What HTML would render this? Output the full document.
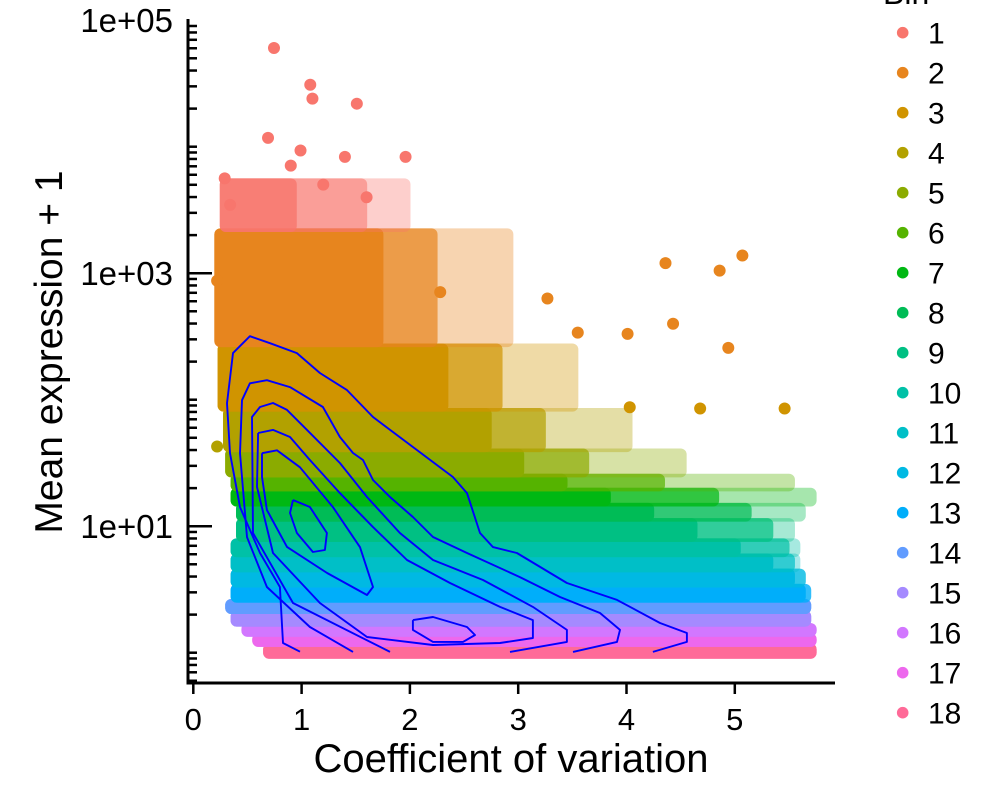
<!DOCTYPE html>
<html><head><meta charset="utf-8"><style>
html,body{margin:0;padding:0;background:#fff;}
svg{display:block;font-family:"Liberation Sans",sans-serif;}
</style></head><body>
<svg id="chart" width="1000" height="800" viewBox="0 0 1000 800" xmlns="http://www.w3.org/2000/svg">
<g id="bands"></g>
<g id="points"></g>
<g id="contours"></g>
<g id="axes"></g>
<g id="legend"></g>
<text x="511" y="772" font-size="40" text-anchor="middle">Coefficient of variation</text>
<text transform="translate(62,352) rotate(-90)" font-size="39" text-anchor="middle">Mean expression + 1</text>
</svg>
<script>
// ---- data ----
const binLabels = ["1","2","3","4","5","6","7","8","9","10","11","12","13","14","15","16","17","18"];
const binColors = ["#F8766D","#E7851E","#D09400","#B2A100","#8BAB00","#55B300","#00B813","#00BC56","#00C083","#00C1A7","#00BFC7","#00B9E3","#00AEFA","#619CFF","#A58AFF","#D277FF","#ED68ED","#FF6A98"];
// log10(mean+1) upper and lower bounds of each bin
const binLogHigh = [3.75,3.34,2.43,1.92,1.60,1.40,1.29,1.17,1.05,0.89,0.77,0.65,0.53,0.41,0.32,0.22,0.14,0.06];
const binLogLow  = [3.34,2.43,1.92,1.60,1.40,1.29,1.17,1.05,0.89,0.77,0.65,0.53,0.41,0.32,0.22,0.14,0.06,0.00];
const binXMin      = [0.30,0.25,0.28,0.33,0.35,0.40,0.40,0.45,0.45,0.40,0.40,0.40,0.40,0.35,0.40,0.50,0.60,0.70];
const binXDenseMax = [0.90,1.70,2.30,2.70,3.00,3.40,3.80,4.20,4.60,5.00,5.30,5.50,5.60,5.65,5.65,5.70,5.70,5.70];
const binXMidMax   = [1.55,2.20,2.80,3.20,3.60,4.30,4.80,5.10,5.30,5.45,5.50,5.60,5.65,5.65,5.65,5.70,5.70,5.70];
const binXMax      = [1.95,2.90,3.50,4.00,4.50,5.50,5.70,5.60,5.50,5.55,5.55,5.60,5.65,5.65,5.65,5.70,5.70,5.70];
// explicit outliers
const outX   = [0.745,1.08,1.10,1.51,0.69,0.99,1.96,1.40,0.29,0.34,4.36,4.86,5.07,0.22,2.28,3.27,3.55,4.01,4.43,0.22,4.94,5.46,4.68,4.03,1.2,0.9,1.6];
const outLog = [4.78,4.49,4.38,4.34,4.07,3.97,3.92,3.92,3.75,3.54,3.08,3.02,3.14,2.94,2.85,2.80,2.53,2.52,2.60,1.63,2.41,1.93,1.93,1.94,3.7,3.85,3.6];
const outBin = [1,1,1,1,1,1,1,1,1,1,2,2,2,2,2,2,2,2,2,4,2,3,3,3,1,1,1];
// contours (x, log10 y)
const contourX = [
 [0.985,0.828,0.800,0.616,0.431,0.339,0.311,0.367,0.523,0.708,0.957,1.169,1.419,1.659,2.028,2.397,2.527,2.647,2.767,2.988,3.450,3.912,4.309,4.558,4.558,4.244],
 [1.475,1.077,0.680,0.496,0.431,0.450,0.523,0.680,0.893,1.197,1.354,1.475,1.567,1.659,1.816,2.028,2.213,2.527,3.016,3.386,3.755,3.940,3.912,3.506],
 [1.816,0.921,0.551,0.542,0.616,0.736,0.865,1.050,1.354,1.604,1.908,2.213,2.675,3.136,3.450,3.450,2.924],
 [0.598,0.736,0.893,1.077,1.354,1.659,1.973,2.370,2.832,3.136,3.136,2.832,2.213,1.604,1.169,0.736,0.588,0.598],
 [0.634,0.773,0.985,1.290,1.539,1.659,1.604,1.235,0.865,0.680,0.634,0.634],
 [0.921,1.077,1.234,1.215,1.104,0.957,0.893,0.921],
 [2.028,2.213,2.527,2.601,2.490,2.213,2.028,2.028]
];
const contourLog = [
 [0.008,0.077,0.519,0.788,1.151,1.577,1.972,2.368,2.502,2.447,2.368,2.211,2.076,1.863,1.626,1.389,1.262,0.946,0.835,0.788,0.551,0.417,0.235,0.156,0.085,0.006],
 [0.006,0.203,0.519,0.914,1.577,1.996,2.130,2.154,2.100,1.942,1.705,1.579,1.523,1.365,1.231,1.073,0.915,0.788,0.598,0.440,0.314,0.180,0.085,0.006],
 [0.006,0.393,0.946,1.863,1.942,1.974,1.919,1.761,1.500,1.231,0.946,0.733,0.575,0.362,0.180,0.085,0.006],
 [1.737,1.761,1.705,1.523,1.262,0.993,0.733,0.551,0.362,0.258,0.116,0.077,0.061,0.124,0.393,0.788,1.310,1.737],
 [1.577,1.600,1.466,1.150,0.834,0.519,0.456,0.630,0.836,1.128,1.389,1.577],
 [1.207,1.152,0.946,0.812,0.796,0.946,1.104,1.207],
 [0.258,0.282,0.203,0.140,0.085,0.085,0.180,0.258]
];
const xTicks = [0,1,2,3,4,5];
const yMajorLog = [1,3,5];
const yMajorLabels = ["1e+01","1e+03","1e+05"];

// ---- scales ----
const X0 = 193.3, XS = 108.3, Y0 = 652.7, YS = 126.5;
function sx(v){ return X0 + v*XS; }
function sy(l){ return Y0 - l*YS; }
const NS = "http://www.w3.org/2000/svg";
function mk(tag, attrs, parent){ const e=document.createElementNS(NS,tag); for(const k in attrs) e.setAttribute(k,attrs[k]); parent.appendChild(e); return e; }
const R = 6;

// bands
const gB = document.getElementById('bands');
for (let i = binLabels.length-1; i >= 0; i--) {
  const yt = sy(binLogHigh[i]) - (i===0?0:R*0.3), yb = sy(binLogLow[i]) + (i===binLabels.length-1?R:R*0.3);
  const x0 = sx(binXMin[i])-R;
  const sparse = mk('rect',{x:x0, y:yt, width:sx(binXMax[i])+R-x0, height:yb-yt, rx:R, fill:binColors[i], opacity:0.35}, gB);
  
  
  const mid = mk('rect',{x:x0, y:yt, width:sx(binXMidMax[i])+R-x0, height:yb-yt, rx:R, fill:binColors[i], opacity:i===0?0.55:0.7}, gB);
  
  
  const dense = mk('rect',{x:x0, y:yt, width:sx(binXDenseMax[i])+R-x0, height:yb-yt, rx:R, fill:binColors[i], opacity:i===0?0.8:1}, gB);
  
  
}
// outliers
const gP = document.getElementById('points');
for (let i = 0; i < outX.length; i++) {
  const c = mk('circle',{cx:sx(outX[i]), cy:sy(outLog[i]), r:R, fill:binColors[outBin[i]-1]}, gP);
  
  
}
// contours
const gC = document.getElementById('contours');
for (let k = 0; k < contourX.length; k++) {
  const pts = contourX[k].map((x,j)=> sx(x).toFixed(1)+','+sy(contourLog[k][j]).toFixed(1)).join(' ');
  const pl = mk('polyline',{points:pts, fill:'none', stroke:'#0000FF', 'stroke-width':1.9, 'stroke-linejoin':'round'}, gC);
  
  
}
// axes
const gA = document.getElementById('axes');
const yAxis = mk('line',{x1:188,y1:19,x2:188,y2:683,stroke:'#000','stroke-width':3}, gA);


const xAxis = mk('line',{x1:186.5,y1:683,x2:835,y2:683,stroke:'#000','stroke-width':3}, gA);


for (let d = -1; d <= 4; d++) {
  for (let m = 1; m <= 9; m++) {
    const l = d + Math.log10(m);
    const y = sy(l);
    if (y > 683 || y < 18) continue;
    const major = (m===1 && d%2===1);
    const t = mk('line',{x1:188,y1:y,x2:major?212:197,y2:y,stroke:'#000','stroke-width':2.5}, gA);
    
    
  }
}
yMajorLog.forEach((l,i)=>{
  const t = mk('text',{x:173,y:sy(l)+12,'font-size':33,'text-anchor':'end'}, gA);
  t.textContent = yMajorLabels[i];
  
  
});
xTicks.forEach(v=>{
  const t = mk('line',{x1:sx(v),y1:683,x2:sx(v),y2:694,stroke:'#000','stroke-width':2.5}, gA);
  
  
  const lb = mk('text',{x:sx(v),y:730,'font-size':31,'text-anchor':'middle'}, gA);
  lb.textContent = String(v);
  
  
});
// legend
const gL = document.getElementById('legend');
const lt = mk('text',{x:883,y:4,'font-size':32}, gL);
lt.textContent = 'Bin';


binLabels.forEach((b,i)=>{
  const y = 32.7 + i*40;
  const c = mk('circle',{cx:902.7, cy:y, r:5.8, fill:binColors[i]}, gL);
  
  
  const t = mk('text',{x:928,y:y+11,'font-size':30}, gL);
  t.textContent = b;
  
  
});
</script>
</body></html>
